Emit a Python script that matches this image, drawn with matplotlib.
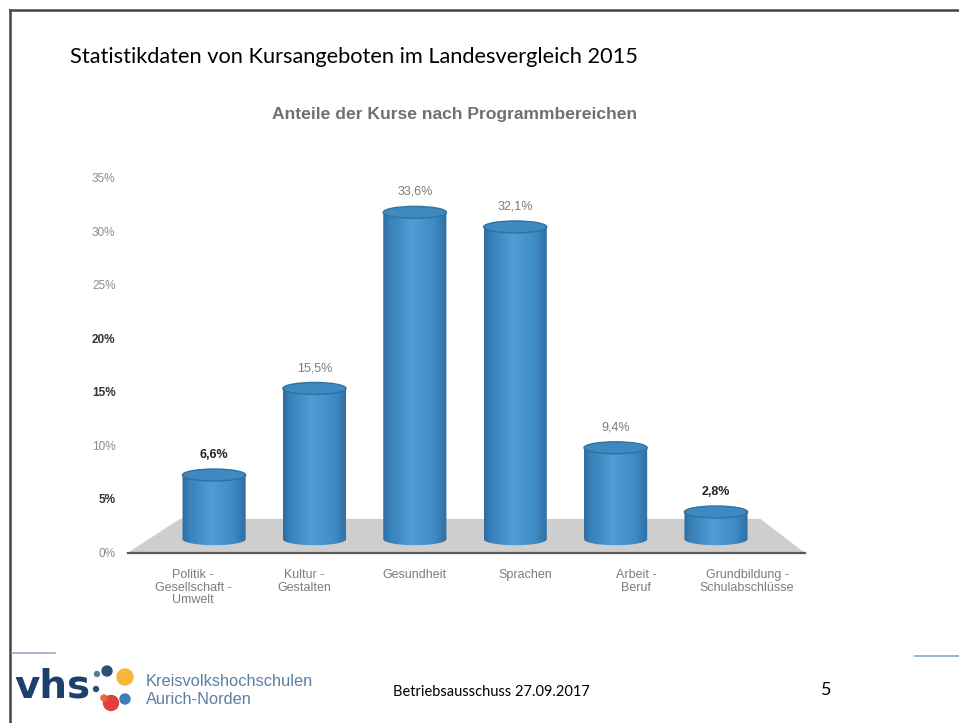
import numpy as np
import matplotlib.pyplot as plt
from matplotlib.patches import Polygon, Ellipse, PathPatch
from matplotlib.path import Path
from matplotlib.colors import LinearSegmentedColormap

title = "Statistikdaten von Kursangeboten im Landesvergleich 2015"
chart_title = "Anteile der Kurse nach Programmbereichen"
categories = ["Politik -\nGesellschaft -\nUmwelt", "Kultur -\nGestalten", "Gesundheit",
              "Sprachen", "Arbeit -\nBeruf", "Grundbildung -\nSchulabschlüsse"]
values = [6.6, 15.5, 33.6, 32.1, 9.4, 2.8]
value_labels = ["6,6%", "15,5%", "33,6%", "32,1%", "9,4%", "2,8%"]
y_ticks = [0, 5, 10, 15, 20, 25, 30, 35]
y_tick_labels = ["0%", "5%", "10%", "15%", "20%", "25%", "30%", "35%"]
footer_text = "Betriebsausschuss 27.09.2017"
page_no = "5"

plt.rcParams['font.family'] = ['Liberation Sans', 'DejaVu Sans']

W, H = 959, 723
fig = plt.figure(figsize=(W / 100, H / 100), dpi=100)
fig.patch.set_facecolor('white')

# chart axes (3d-ish look done by hand)
ax = fig.add_axes([121 / W, 1 - 560.6 / H, 692.5 / W, 393.4 / H])
for s in ax.spines.values():
    s.set_visible(False)
ax.set_xticks([])
ax.set_yticks(y_ticks)
ax.set_yticklabels(y_tick_labels, fontsize=8.5)
ax.tick_params(axis='y', length=0, pad=4)
dark_ticks = [5, 15, 20]
for t, lab in zip(y_ticks, ax.get_yticklabels()):
    lab.set_color('#333333' if t in dark_ticks else '#8c8c8c')
    if t in dark_ticks:
        lab.set_fontweight('bold')

# floor
floor = Polygon([(-0.587, -0.05), (5.52, -0.05), (5.12, 3.1), (-0.117, 3.1)],
                closed=True, facecolor='#cecece', edgecolor='none', zorder=1)
ax.add_patch(floor)
ax.plot([-0.587, 5.52], [-0.05, -0.05], color='#5a5a5a', lw=1.6, zorder=2)

# cylinders
cmap = LinearSegmentedColormap.from_list(
    'cyl', [(0, '#2f6d9f'), (0.1, '#3780b9'), (0.45, '#4f9cd6'),
            (0.8, '#3f8bc6'), (1, '#306fa2')])
grad = np.linspace(0, 1, 200).reshape(1, -1)

base = 1.2
scale = 0.91
bw = 0.57
ell_h = 1.12
for i, v in enumerate(values):
    cx = 0.19 + 0.906 * i
    x0, x1 = cx - bw / 2, cx + bw / 2
    top = base + v * scale
    th = np.linspace(np.pi, 2 * np.pi, 60)
    verts = [(x0, top)] + list(zip(cx + bw / 2 * np.cos(th), base + ell_h / 2 * np.sin(th))) + [(x1, top), (x0, top)]
    codes = [Path.MOVETO] + [Path.LINETO] * (len(verts) - 2) + [Path.CLOSEPOLY]
    body = PathPatch(Path(verts, codes), facecolor='none', edgecolor='none', zorder=3)
    ax.add_patch(body)
    im = ax.imshow(grad, cmap=cmap, extent=[x0, x1, base - ell_h, top], aspect='auto', zorder=3)
    im.set_clip_path(body)
    ax.add_patch(Ellipse((cx, top), bw, ell_h, facecolor='#3f89c3', edgecolor='#31719f',
                         lw=1.0, zorder=4))
    dark = v in (6.6, 2.8)
    ax.text(cx, top + ell_h / 2 + 1.35, value_labels[i], ha='center', va='center',
            fontsize=9, color='#222222' if dark else '#7c7c7c',
            fontweight='bold' if dark else 'normal', zorder=5)

ax.set_xlim(-0.65, 5.6)
ax.set_ylim(-0.8, 36)

# category labels
for i, c in enumerate(categories):
    ax.text(i, -1.6, c, ha='center', va='top', fontsize=9, color='#7c7c7c',
            linespacing=1.05)

# titles
fig.text(70 / W, 1 - 57 / H, title, ha='left', va='center', fontsize=15.7,
         family=['Lato', 'DejaVu Sans'], color='black')
fig.text(455 / W, 1 - 114 / H, chart_title, ha='center', va='center', fontsize=12.6,
         fontweight='bold', color='#707070')

# slide border
fig.add_artist(plt.Line2D([10 / W, 1], [1 - 10 / H, 1 - 10 / H], color='#444444', lw=1.8))
fig.add_artist(plt.Line2D([10 / W, 10 / W], [1 - 10 / H, 0], color='#444444', lw=1.8))
fig.add_artist(plt.Line2D([12 / W, 55 / W], [1 - 653 / H, 1 - 653 / H], color='#9aaac0', lw=1.2))
fig.add_artist(plt.Line2D([915 / W, 1], [1 - 656 / H, 1 - 656 / H], color='#8aa6c8', lw=1.2))

# footer
fig.text(14 / W, 1 - 686 / H, "vhs", ha='left', va='center', fontsize=28,
         fontweight='bold', family=['DejaVu Sans'], color='#1d3f6c')
dots = [((97, 674), 2.5, '#5f7a96'), ((107, 671), 5, '#2d4f78'), ((125, 677), 8, '#f6b73c'),
        ((96, 689), 2.5, '#2d4f78'), ((111, 703), 7.5, '#e04040'), ((125, 699), 5, '#3b7fb6'),
        ((104, 698), 3, '#e86a3a')]
for (px, py), r, col in dots:
    fig.add_artist(Ellipse((px / W, 1 - py / H), 2 * r / W, 2 * r / H, color=col,
                           transform=fig.transFigure))
fig.text(146 / W, 1 - 681 / H, "Kreisvolkshochschulen", ha='left', va='center',
         fontsize=11.8, color='#5d7fa2')
fig.text(146 / W, 1 - 699 / H, "Aurich-Norden", ha='left', va='center',
         fontsize=11.8, color='#5d7fa2')
fig.text(393 / W, 1 - 692 / H, footer_text, ha='left', va='center', fontsize=10.5,
         family=['Lato', 'DejaVu Sans'], color='black')
fig.text(826 / W, 1 - 690 / H, page_no, ha='center', va='center', fontsize=13,
         family=['Lato', 'DejaVu Sans'], color='black')

fig.savefig("out.png", dpi=100)
